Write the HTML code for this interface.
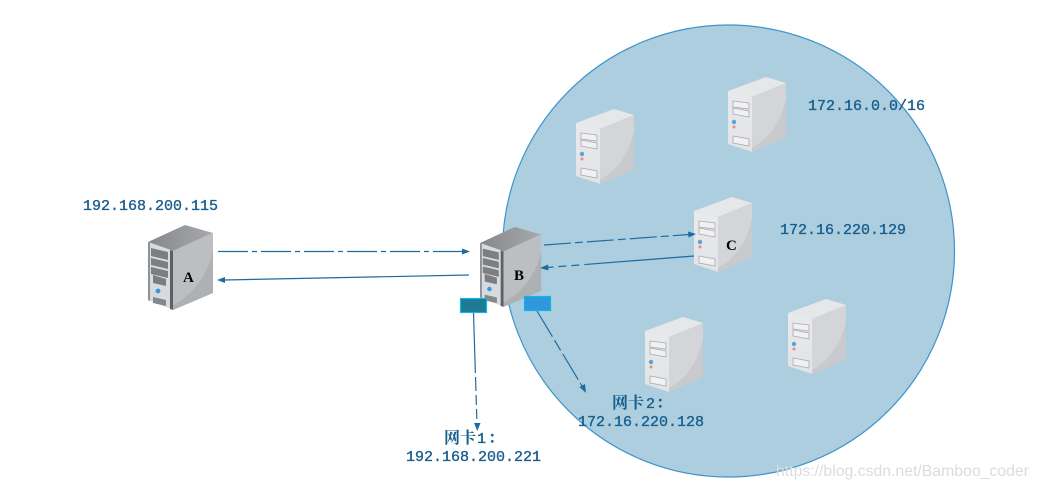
<!DOCTYPE html>
<html>
<head>
<meta charset="utf-8">
<style>
html,body{margin:0;padding:0;background:#fff;width:1038px;height:488px;overflow:hidden}
svg{display:block}
.t{font-family:"Liberation Mono","Noto Serif CJK SC",monospace;font-size:15px;fill:#185f8e;stroke:#185f8e;stroke-width:.35}
.c{font-family:"Noto Serif CJK SC","Liberation Serif",serif;font-size:16px;fill:#185f8e;font-weight:bold}
.l{font-family:"Liberation Serif",serif;font-size:15px;font-weight:bold;fill:#000}
.wm{font-family:"Liberation Sans",sans-serif;font-size:15.8px;fill:#dcdcdc}
.a{stroke:#1f6ba0;stroke-width:1.2;fill:none}
</style>
</head>
<body>
<svg width="1038" height="488" viewBox="0 0 1038 488" xmlns="http://www.w3.org/2000/svg">
<defs>
<linearGradient id="lf" x1="0" y1="0" x2="0" y2="1"><stop offset="0" stop-color="#e9eaec"/><stop offset="1" stop-color="#e1e3e6"/></linearGradient>
<linearGradient id="dt" x1="0" y1="0" x2="1" y2="0"><stop offset="0" stop-color="#85878b"/><stop offset="1" stop-color="#a7a9ad"/></linearGradient>
<g id="light">
<polygon points="0,15 38,1 58,7 24,21" fill="#e6e7e9"/>
<polygon points="24,21 58,7 58,61 24,76" fill="#d3d5d9"/>
<path d="M58,22 C54,44 42,62 24,72 L24,76 L58,61 Z" fill="#c8cace"/>
<polygon points="0,15 24,21 24,76 0,68" fill="url(#lf)"/>
<polygon points="5,25 21,27 21,33 5,31" fill="#f1f1f2" stroke="#a9abaf" stroke-width=".8"/>
<polygon points="5,32 21,35 21,41 5,38" fill="#f1f1f2" stroke="#a9abaf" stroke-width=".8"/>
<circle cx="6" cy="46" r="2.2" fill="#5aa2d8"/>
<circle cx="6" cy="51" r="1.5" fill="#e58a8a"/>
<polygon points="5,60 21,63 21,70 5,67" fill="#f1f1f2" stroke="#a9abaf" stroke-width=".8"/>
</g>
<g id="dark">
<polygon points="0,17 37,0 65,8 25,26" fill="url(#dt)"/>
<polygon points="25,26 65,8 65,68 25,85" fill="#bcbec1"/>
<path d="M65,26 C60,50 45,70 25,80 L25,85 L65,68 Z" fill="#aeb1b4"/>
<polygon points="0,17 23,25 23,84 0,75" fill="#d7dade"/>
<polygon points="22,25 25,26 25,85 22,84" fill="#5d6064"/>
<polygon points="0,17 2,18 2,76 0,75" fill="#8f9195"/>
<polygon points="3,23 20,27 20,35 3,31" fill="#7c7e82"/>
<polygon points="3,33 20,37 20,44 3,40" fill="#7c7e82"/>
<polygon points="3,42 20,46 20,53 3,49" fill="#7c7e82"/>
<polygon points="5,50 18,54 18,61 5,58" fill="#7b7d81"/>
<circle cx="10" cy="66" r="2.4" fill="#3a97e0"/>
<polygon points="5,72 18,75 18,81 5,78" fill="#85878b"/>
</g>
</defs>

<circle cx="728.5" cy="251" r="226" fill="#acceDF" stroke="#3d93cc" stroke-width="1.2"/>

<use href="#light" x="576" y="108"/>
<use href="#light" x="728" y="76"/>
<use href="#light" x="694" y="196"/>
<use href="#light" x="645" y="316"/>
<use href="#light" x="788" y="298"/>
<use href="#dark" x="148" y="225"/>
<use href="#dark" transform="translate(480 227) scale(.94)"/>

<rect x="460.5" y="298.5" width="26" height="14" fill="#1f7a94" stroke="#12b5e6" stroke-width="1.2"/>
<rect x="524.5" y="296.5" width="26" height="14" fill="#2f97dc" stroke="#12b5e6" stroke-width="1.2"/>

<line class="a" x1="218" y1="251.5" x2="463" y2="251.5" stroke-dasharray="30 4 5 4"/>
<polygon points="470,251.5 462,248.5 462,254.5" fill="#1f6ba0"/>
<line class="a" x1="469" y1="275" x2="224" y2="280"/>
<polygon points="217,280 225,277 225,283" fill="#1f6ba0"/>
<line class="a" x1="544" y1="245" x2="689" y2="234.5" stroke-dasharray="27 4 8 4"/>
<polygon points="696,234 688,231.5 688.5,237.5" fill="#1f6ba0"/>
<line class="a" x1="694" y1="256" x2="547" y2="267.5" stroke-dasharray="110 5 8 5 8 5"/>
<polygon points="540,268 548,264.5 548.5,270.5" fill="#1f6ba0"/>
<line class="a" x1="473.5" y1="313" x2="477" y2="424" stroke-dasharray="60 4 14 4 10 4 10 4"/>
<polygon points="477.3,431 474,423 480.5,423" fill="#1f6ba0"/>
<line class="a" x1="537" y1="311" x2="582" y2="386" stroke-dasharray="30 4 12 4"/>
<polygon points="586,393 579.5,387 585,384" fill="#1f6ba0"/>

<text class="l" x="183" y="282">A</text>
<text class="l" x="514" y="280">B</text>
<text class="l" x="726" y="250">C</text>

<text class="t" x="83" y="210">192.168.200.115</text>
<text class="t" x="808" y="110">172.16.0.0/16</text>
<text class="t" x="780" y="234">172.16.220.129</text>
<text class="t" x="578" y="426">172.16.220.128</text>
<text class="t" x="406" y="461">192.168.200.221</text>
<text class="c" x="612" y="408">网卡</text><text class="t" x="646" y="408">2</text><text class="c" x="656" y="408">：</text>
<text class="c" x="444" y="443">网卡</text><text class="t" x="477" y="443">1</text><text class="c" x="488" y="443">：</text>

<text class="wm" x="776" y="476">https://blog.csdn.net/Bamboo_coder</text>
</svg>
</body>
</html>
